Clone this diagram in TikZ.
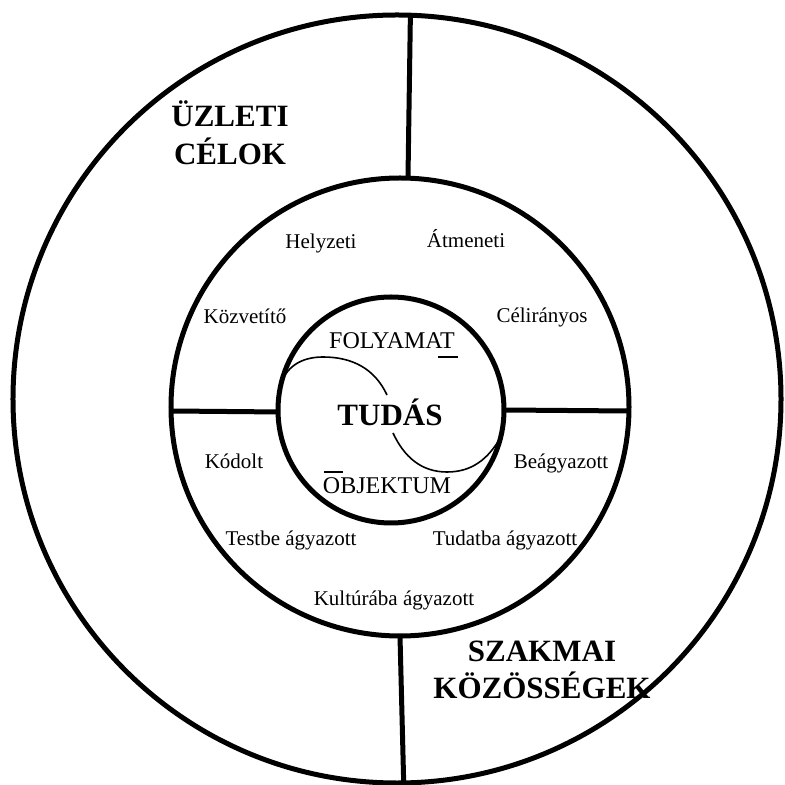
\documentclass[tikz,border=0pt]{standalone}
\usepackage{fontspec}
\setmainfont{Liberation Serif}
\begin{document}
\begin{tikzpicture}[x=0.5pt, y=0.5pt,
    ring/.style={circle, draw, line width=2.5pt, inner sep=0pt, outer sep=0pt},
    bar/.style={line width=2.5pt},
    thin/.style={line width=0.8pt},
    lbl/.style={anchor=base, font=\fontsize{10.5}{12}\selectfont},
    flow/.style={anchor=base, font=\fontsize{12}{14}\selectfont},
    heading/.style={anchor=base, align=center, font=\fontsize{15.5}{19}\selectfont\bfseries}]
    \useasboundingbox (-397,-386) rectangle (387,399);

    % rings
    \node[ring, minimum size=384pt] (outer) at (0,0) {};
    \node[ring, minimum size=229pt] (mid) at (3,-8) {};
    \node[ring, minimum size=113pt] (inn) at (-6,-11) {};

    % dividers
    \draw[bar] (outer.88) -- (mid.88);
    \draw[bar] (mid.270) -- (outer.-89.4);
    \draw[bar] (mid.181) -- (inn.181);
    \draw[bar] (inn.0) -- (mid.359);

    % swirl in the core
    \draw[thin] (inn.166) to[out=70, in=180] (-74,42) to[out=0, in=115] (-10,4);
    \draw[thin] (-4,-34) to[out=-65, in=180] (50,-73) to[out=0, in=-120] (inn.-14);
    \draw[thin] (41,42) -- (61,42);
    \draw[thin] (-73,-73) -- (-54,-73);

    % core
    \node[flow] (folyamat) at (-5,50) {FOLYAMAT};
    \node[anchor=base, font=\fontsize{15.5}{19}\selectfont\bfseries] (tudas) at (-7,-27) {TUDÁS};
    \node[flow] (objektum) at (-10,-95) {OBJEKTUM};

    % middle ring
    \node[lbl] (helyzeti) at (-76,150) {Helyzeti};
    \node[lbl] (atmeneti) at (69,151) {Átmeneti};
    \node[lbl] (kozvetito) at (-152,75) {Közvetítő};
    \node[lbl] (celiranyos) at (145,76) {Célirányos};
    \node[lbl] (kodolt) at (-163,-70) {Kódolt};
    \node[lbl] (beagyazott) at (164,-70) {Beágyazott};
    \node[lbl] (testbe) at (-106,-147) {Testbe ágyazott};
    \node[lbl] (tudatba) at (108,-147) {Tudatba ágyazott};
    \node[lbl] (kulturaba) at (-3,-206) {Kultúrába ágyazott};

    % outer ring
    \node[heading] (celok) at (-167,234) {ÜZLETI\\CÉLOK};
    \node[heading, font=\fontsize{15.5}{18.5}\selectfont\bfseries] (kozossegek) at (145,-299) {SZAKMAI\\KÖZÖSSÉGEK};
\end{tikzpicture}
\end{document}
